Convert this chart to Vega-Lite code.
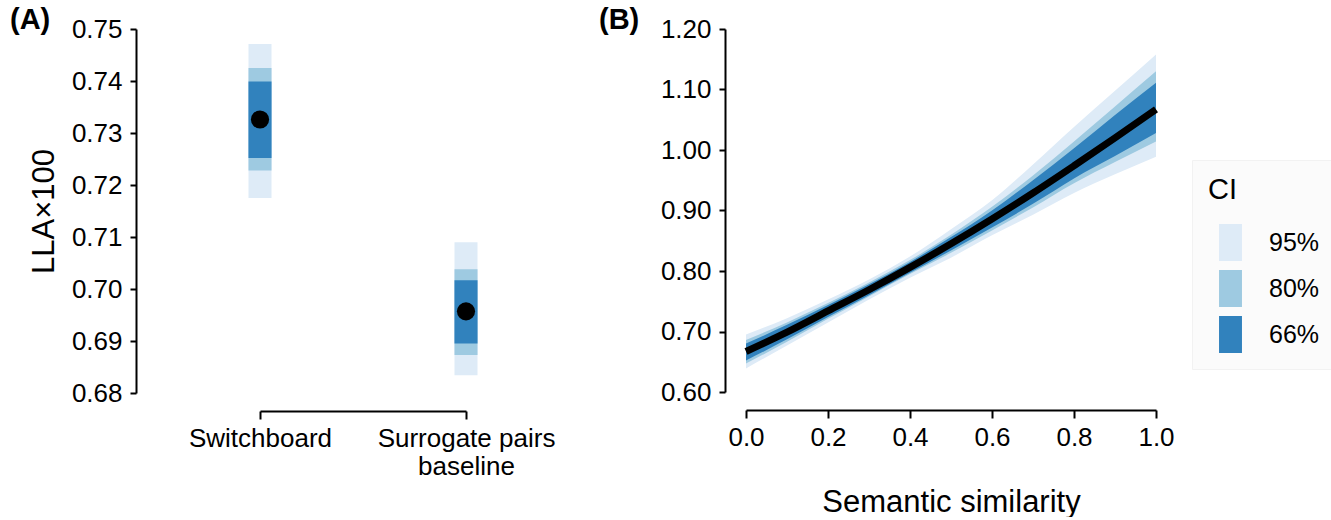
{
  "$schema": "https://vega.github.io/schema/vega-lite/v6.json",
  "padding": {"left": 10, "top": 6, "right": 0, "bottom": 0},
  "background": "white",
  "datasets": {
    "ci_a": [
      {"cond": "Switchboard", "CI": "95%", "ord": 1, "lo": 0.7175, "hi": 0.7471},
      {"cond": "Switchboard", "CI": "80%", "ord": 2, "lo": 0.7228, "hi": 0.7425},
      {"cond": "Switchboard", "CI": "66%", "ord": 3, "lo": 0.7252, "hi": 0.7399},
      {"cond": "Surrogate pairs baseline", "CI": "95%", "ord": 1, "lo": 0.6834, "hi": 0.709},
      {"cond": "Surrogate pairs baseline", "CI": "80%", "ord": 2, "lo": 0.6873, "hi": 0.7038},
      {"cond": "Surrogate pairs baseline", "CI": "66%", "ord": 3, "lo": 0.6895, "hi": 0.7017}
    ],
    "est_a": [
      {"cond": "Switchboard", "est": 0.7326},
      {"cond": "Surrogate pairs baseline", "est": 0.6957}
    ],
    "curve_b": [
      {"x": 0.0, "mean": 0.667, "lo95": 0.639, "hi95": 0.695, "lo80": 0.647, "hi80": 0.686, "lo66": 0.652, "hi66": 0.68},
      {"x": 0.1, "mean": 0.699, "lo95": 0.677, "hi95": 0.722, "lo80": 0.683, "hi80": 0.715, "lo66": 0.687, "hi66": 0.711},
      {"x": 0.2, "mean": 0.734, "lo95": 0.715, "hi95": 0.753, "lo80": 0.721, "hi80": 0.747, "lo66": 0.724, "hi66": 0.744},
      {"x": 0.3, "mean": 0.769, "lo95": 0.753, "hi95": 0.786, "lo80": 0.758, "hi80": 0.781, "lo66": 0.76, "hi66": 0.778},
      {"x": 0.4, "mean": 0.806, "lo95": 0.789, "hi95": 0.824, "lo80": 0.795, "hi80": 0.818, "lo66": 0.797, "hi66": 0.815},
      {"x": 0.5, "mean": 0.845, "lo95": 0.822, "hi95": 0.869, "lo80": 0.83, "hi80": 0.86, "lo66": 0.834, "hi66": 0.856},
      {"x": 0.6, "mean": 0.886, "lo95": 0.859, "hi95": 0.917, "lo80": 0.867, "hi80": 0.906, "lo66": 0.872, "hi66": 0.9},
      {"x": 0.7, "mean": 0.929, "lo95": 0.893, "hi95": 0.976, "lo80": 0.905, "hi80": 0.958, "lo66": 0.911, "hi66": 0.95},
      {"x": 0.8, "mean": 0.974, "lo95": 0.929, "hi95": 1.038, "lo80": 0.945, "hi80": 1.014, "lo66": 0.953, "hi66": 1.003},
      {"x": 0.9, "mean": 1.02, "lo95": 0.96, "hi95": 1.098, "lo80": 0.98, "hi80": 1.072, "lo66": 0.99, "hi66": 1.058},
      {"x": 1.0, "mean": 1.067, "lo95": 0.989, "hi95": 1.158, "lo80": 1.014, "hi80": 1.13, "lo66": 1.028, "hi66": 1.111}
    ]
  },
  "hconcat": [
    {
      "width": 206,
      "height": 364,
      "title": {"text": "(A)", "anchor": "start", "frame": "group", "dx": -250, "dy": 40, "offset": -8, "baseline": "bottom", "fontSize": 29, "fontWeight": "bold", "color": "black"},
      "layer": [
        {
          "data": {"name": "ci_a"},
          "mark": {"type": "bar", "width": 23, "opacity": 1},
          "encoding": {
            "x": {
              "field": "cond", "type": "nominal",
              "scale": {"type": "point", "padding": 0, "domain": ["Switchboard", "Surrogate pairs baseline"]},
              "axis": {
                "title": null, "offset": 18, "tickSize": 8, "labelFontSize": 26, "labelPadding": 6, "labelAngle": 0,
                "labelLineHeight": 28,
                "labelExpr": "datum.value == 'Surrogate pairs baseline' ? ['Surrogate pairs', 'baseline'] : datum.label"
              }
            },
            "y": {
              "field": "lo", "type": "quantitative",
              "scale": {"domain": [0.68, 0.75], "nice": false, "zero": false},
              "axis": {
                "title": "LLA×100", "values": [0.68, 0.69, 0.7, 0.71, 0.72, 0.73, 0.74, 0.75], "format": ".2f",
                "offset": 124, "tickSize": 6, "labelPadding": 8, "labelFontSize": 26,
                "titleFontSize": 31, "titleFontWeight": "normal", "titlePadding": 11
              }
            },
            "y2": {"field": "hi"},
            "color": {
              "field": "CI", "type": "nominal",
              "scale": {"domain": ["95%", "80%", "66%"], "range": ["#deebf7", "#9ecae1", "#3182bd"]},
              "legend": {"title": "CI"}
            },
            "order": {"field": "ord"}
          }
        },
        {
          "data": {"name": "est_a"},
          "mark": {"type": "point", "filled": true, "size": 330, "color": "black", "opacity": 1},
          "encoding": {
            "x": {"field": "cond", "type": "nominal"},
            "y": {"field": "est", "type": "quantitative"}
          }
        }
      ]
    },
    {
      "width": 410,
      "height": 363,
      "data": {"name": "curve_b"},
      "title": {"text": "(B)", "anchor": "start", "frame": "group", "dx": -147, "dy": 40, "offset": -8, "baseline": "bottom", "fontSize": 29, "fontWeight": "bold", "color": "black"},
      "encoding": {
        "x": {
          "field": "x", "type": "quantitative",
          "scale": {"domain": [0, 1], "nice": false},
          "axis": {
            "title": "Semantic similarity", "values": [0, 0.2, 0.4, 0.6, 0.8, 1], "format": ".1f",
            "offset": 18, "tickSize": 8, "labelPadding": 6, "labelFontSize": 26, "labelFlush": false,
            "titleFontSize": 31, "titleFontWeight": "normal", "titlePadding": 37
          }
        }
      },
      "layer": [
        {
          "mark": {"type": "area", "opacity": 1, "interpolate": "monotone"},
          "encoding": {
            "y": {
              "field": "lo95", "type": "quantitative",
              "scale": {"domain": [0.6, 1.2], "nice": false, "zero": false},
              "axis": {
                "title": null, "values": [0.6, 0.7, 0.8, 0.9, 1.0, 1.1, 1.2], "format": ".2f",
                "offset": 21, "tickSize": 6, "labelPadding": 8, "labelFontSize": 26
              }
            },
            "y2": {"field": "hi95"},
            "color": {"datum": "95%", "type": "nominal", "scale": {"domain": ["95%", "80%", "66%"], "range": ["#deebf7", "#9ecae1", "#3182bd"]}, "legend": {"title": "CI"}}
          }
        },
        {
          "mark": {"type": "area", "opacity": 1, "interpolate": "monotone"},
          "encoding": {
            "y": {"field": "lo80", "type": "quantitative"},
            "y2": {"field": "hi80"},
            "color": {"datum": "80%", "type": "nominal", "legend": {"title": "CI"}}
          }
        },
        {
          "mark": {"type": "area", "opacity": 1, "interpolate": "monotone"},
          "encoding": {
            "y": {"field": "lo66", "type": "quantitative"},
            "y2": {"field": "hi66"},
            "color": {"datum": "66%", "type": "nominal", "legend": {"title": "CI"}}
          }
        },
        {
          "mark": {"type": "line", "color": "black", "strokeWidth": 7, "strokeCap": "butt", "interpolate": "monotone"},
          "encoding": {
            "y": {"field": "mean", "type": "quantitative"}
          }
        }
      ]
    }
  ],
  "spacing": 44,
  "config": {
    "font": "Liberation Sans",
    "view": {"stroke": null},
    "axis": {
      "grid": false, "domainColor": "black", "tickColor": "black", "labelColor": "black", "titleColor": "black",
      "domainWidth": 2, "tickWidth": 2, "labelFont": "Liberation Sans", "titleFont": "Liberation Sans"
    },
    "legend": {
      "orient": "none", "legendX": 932, "legendY": 131,
      "titleFontSize": 29, "titleFontWeight": "normal", "titleColor": "black", "titlePadding": 19,
      "labelFontSize": 25, "labelColor": "black", "labelOffset": 20,
      "symbolType": "M-0.62,-1H0.62V1H-0.62Z", "symbolSize": 1369, "symbolStrokeWidth": 0, "symbolOpacity": 1,
      "symbolOffset": 4, "rowPadding": 9,
      "padding": 16, "fillColor": "#fbfbfb", "strokeColor": "#f2f2f2"
    }
  }
}
